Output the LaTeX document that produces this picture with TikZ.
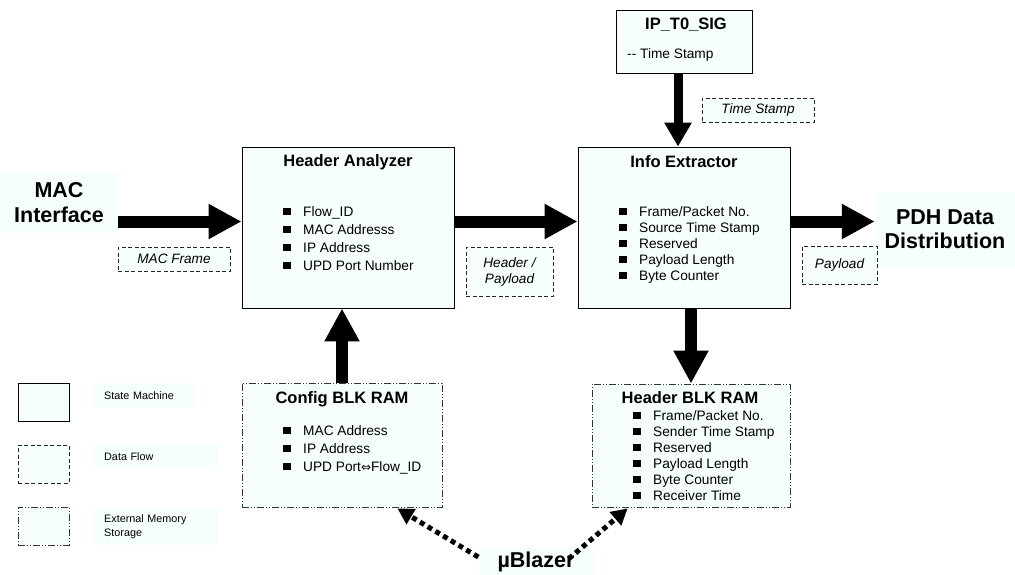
\documentclass[tikz,border=0pt]{standalone}
\usepackage{fontspec}
\setmainfont{Liberation Sans}
\newfontfamily\symfont{DejaVu Sans}
\usetikzlibrary{arrows.meta,calc}
\definecolor{boxfill}{RGB}{246,254,254}
% bullet item: black square followed by the entry text
\newcommand{\bitem}[1]{\makebox[20pt][l]{\raisebox{1pt}{\rule{7.5pt}{7.5pt}}}#1}

\begin{document}
\begin{tikzpicture}[x=1pt,y=-1pt,
  statebox/.style={draw=black, line width=0.9pt, fill=boxfill, inner sep=0pt},
  memorybox/.style={draw=black!80, line width=0.9pt, fill=boxfill, inner sep=0pt,
    dash pattern=on 7pt off 2pt on 1pt off 2pt on 1pt off 2pt},
  flowlabel/.style={draw=black!85, line width=0.8pt, dash pattern=on 4pt off 2.5pt,
    fill=boxfill, inner sep=0pt, font=\itshape\fontsize{13.6}{16}\selectfont, align=center},
  boxtitle/.style={font=\bfseries\fontsize{16.5}{18}\selectfont, inner sep=0pt},
  itemlist/.style={anchor=north west, inner sep=0pt, align=left},
  bigtext/.style={fill=boxfill, font=\bfseries\fontsize{21.5}{24.5}\selectfont,
    align=center, inner sep=0pt},
  legendtext/.style={fill=boxfill, font=\fontsize{10.8}{14}\selectfont, align=left,
    inner xsep=10pt, inner ysep=0pt, anchor=west},
  bigarrow/.style={line width=12pt, -{Triangle[length=33pt,width=33pt]}},
  smallarrow/.style={line width=9pt, -{Triangle[length=24pt,width=26pt]}},
  dotarrow/.style={line width=5pt, dash pattern=on 5pt off 4pt,
    -{Triangle[length=16pt,width=17pt]}}
]
\useasboundingbox (0,0) rectangle (1015,574);

% ---- state machines ----
\node[statebox, minimum width=136pt, minimum height=63pt] (ip) at (684,41.5) {};
\node[boxtitle] (ipt) at (686,25) {IP\_T0\_SIG};
\node[anchor=west, inner sep=0pt, font=\fontsize{13.7}{16}\selectfont] (ipl) at (627,55) {-{}- Time Stamp};

\node[statebox, minimum width=212pt, minimum height=161pt] (ha) at (348,227.5) {};
\node[boxtitle] (hat) at (348,162) {Header Analyzer};
\node[itemlist, font=\fontsize{13.7}{18}\selectfont] (hal) at (283,206) {%
  \bitem{Flow\_ID}\\ \bitem{MAC Addresss}\\ \bitem{IP Address}\\ \bitem{UPD Port Number}};

\node[statebox, minimum width=212pt, minimum height=161pt] (ie) at (684,227.5) {};
\node[boxtitle] (iet) at (684,162) {Info Extractor};
\node[itemlist, font=\fontsize{13.7}{16}\selectfont] (iel) at (619,206) {%
  \bitem{Frame/Packet No.}\\ \bitem{Source Time Stamp}\\ \bitem{Reserved}\\
  \bitem{Payload Length}\\ \bitem{Byte Counter}};

% ---- external memories ----
\node[memorybox, minimum width=200pt, minimum height=124pt] (cfg) at (342,445) {};
\node[boxtitle] (cfgt) at (342,399) {Config BLK RAM};
\node[itemlist, font=\fontsize{13.7}{18}\selectfont] (cfgl) at (283,425) {%
  \bitem{MAC Address}\\ \bitem{IP Address}\\
  \bitem{UPD Port{\symfont\fontsize{12}{12}\selectfont ⇔}Flow\_ID}};

\node[memorybox, minimum width=198pt, minimum height=123pt] (hb) at (691,445.5) {};
\node[boxtitle] (hbt) at (690,398) {Header BLK RAM};
\node[itemlist, font=\fontsize{13.7}{16}\selectfont] (hbl) at (633,410) {%
  \bitem{Frame/Packet No.}\\ \bitem{Sender Time Stamp}\\ \bitem{Reserved}\\
  \bitem{Payload Length}\\ \bitem{Byte Counter}\\ \bitem{Receiver Time}};

% ---- end points ----
\node[bigtext, minimum width=118pt, minimum height=61pt] (mac) at (59,202.5) {MAC\\Interface};
\node[bigtext, minimum width=140pt, minimum height=74pt] (pdh) at (945,229) {PDH Data\\Distribution};
\node[bigtext, minimum width=115pt, minimum height=32pt] (mb) at (536,562) {µBlazer};

% ---- data flow labels ----
\node[flowlabel, minimum width=112pt, minimum height=24pt] (macf) at (174,259) {MAC Frame};
\node[flowlabel, minimum width=87pt, minimum height=49pt] (hp) at (509.5,271.5) {Header /\\Payload};
\node[flowlabel, minimum width=75pt, minimum height=38pt] (pl) at (839.5,265) {Payload};
\node[flowlabel, minimum width=112pt, minimum height=24pt] (ts) at (758,110) {Time Stamp};

% ---- legend ----
\node[statebox, minimum width=51pt, minimum height=38pt] (lg1) at (43.5,402) {};
\node[flowlabel, minimum width=51pt, minimum height=38pt] (lg2) at (43.5,464) {};
\node[memorybox, minimum width=51pt, minimum height=38pt] (lg3) at (43.5,526) {};
\node[legendtext, text width=80pt, minimum height=25pt] (lt1) at (94,395.5) {State Machine};
\node[legendtext, text width=104pt, minimum height=26pt] (lt2) at (94,457) {Data Flow};
\node[legendtext, text width=104pt, minimum height=37pt] (lt3) at (94,526.5) {External Memory\\Storage};

% ---- connectors ----
\coordinate (row) at ($(ha.west)+(0,-6)$);
\draw[bigarrow] (mac.east |- row) -- (ha.west |- row);
\draw[bigarrow] (ha.east |- row) -- (ie.west |- row);
\draw[bigarrow] (ie.east |- row) -- (pdh.west |- row);

\coordinate (tsin) at ($(ip.south)+(-6,0)$);
\draw[smallarrow] (tsin) -- (tsin |- ie.north);

\draw[bigarrow] (cfg.north) -- (cfg.north |- ha.south);
\draw[bigarrow] (hb.north |- ie.south) -- (hb.north);

\coordinate (ltail) at ($(mb.west)+(0,-5)$);
\coordinate (ltip) at ($(cfg.south east)+(-45,1)$);
\coordinate (rtail) at ($(mb.north east)+(-25,13)$);
\coordinate (rtip) at ($(hb.south west)+(36,1)$);
\draw[dotarrow] (ltail) -- (ltip);
\draw[dotarrow] (rtail) -- (rtip);
\end{tikzpicture}
\end{document}
